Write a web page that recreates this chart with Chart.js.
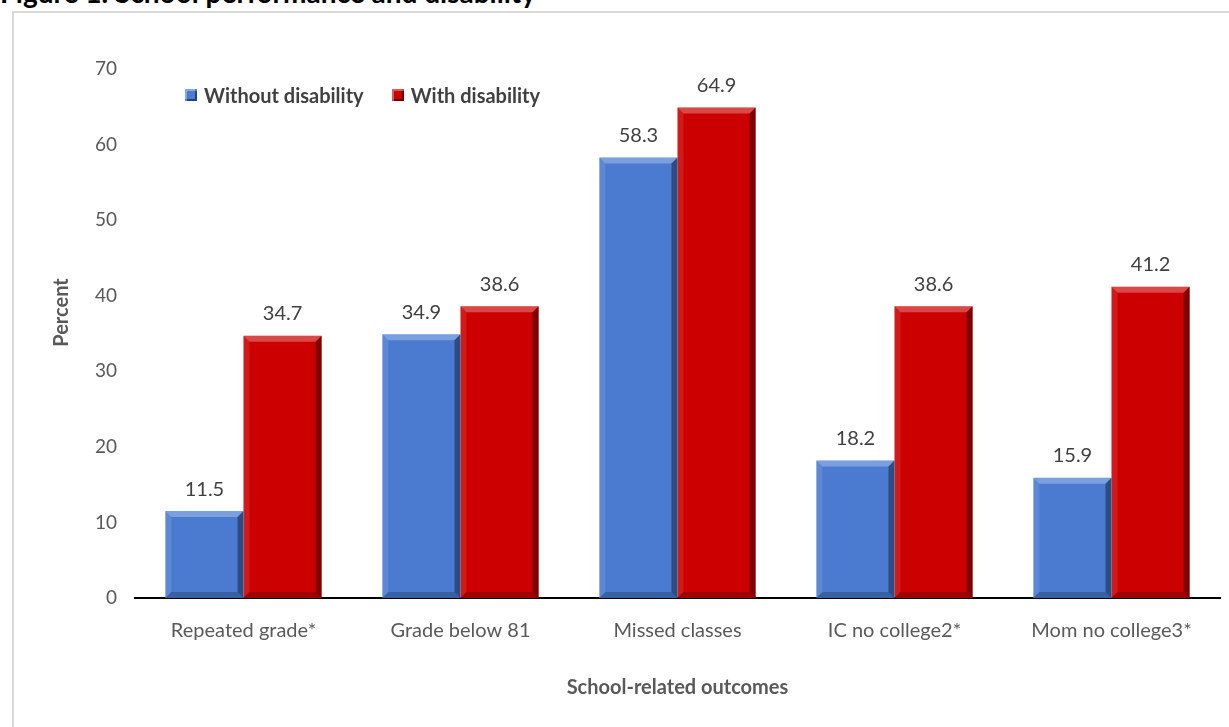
<!DOCTYPE html>
<html>
<head>
<meta charset="utf-8">
<script src="https://cdn.jsdelivr.net/npm/chart.js@4.4.0/dist/chart.umd.min.js"></script>
<style>
    html, body { margin: 0; padding: 0; background: #fff; width: 1229px; height: 727px; overflow: hidden; font-family: Lato, sans-serif; }
    #frame { position: absolute; left: 12px; top: 11px; width: 1300px; height: 800px; border: 2px solid #d9d9d9; box-sizing: border-box; }
    #title { position: absolute; left: 0; top: -22px; font: bold 28px/28px Lato, sans-serif; color: #000; white-space: nowrap; }
    #wrap { position: absolute; left: 0; top: 0; width: 1229px; height: 727px; }
    #legend { position: absolute; left: 185px; top: 83px; display: flex; align-items: center; font: bold 20px/24px Lato, sans-serif; color: #404040; }
    #legend .item { display: flex; align-items: center; margin-right: 28px; }
    #legend .box { width: 12px; height: 12px; margin-right: 7px; box-shadow: inset 2px 2px 0 rgba(255,255,255,0.35), inset -2px -2px 0 rgba(0,0,0,0.45); }
</style>
</head>
<body>
<div id="frame"></div>
<div id="title">Figure 1. School performance and disability</div>
<div id="wrap"><canvas id="chart" width="1229" height="727"></canvas></div>
<div id="legend"></div>
<script>
// Chart data
const categories = ['Repeated grade*', 'Grade below 81', 'Missed classes', 'IC no college2*', 'Mom no college3*'];
const withoutDisability = [11.5, 34.9, 58.3, 18.2, 15.9];
const withDisability = [34.7, 38.6, 64.9, 38.6, 41.2];
const seriesNames = ['Without disability', 'With disability'];
const yTicks = [0, 10, 20, 30, 40, 50, 60, 70];
const yTitle = 'Percent';
const xTitle = 'School-related outcomes';

const blue = '#4a7bd1';
const red = '#cc0000';

// Bevel look on each bar, plus the value labels on top
const bevelPlugin = {
    id: 'bevel',
    afterDatasetsDraw(chart) {
        const ctx = chart.ctx;
        chart.data.datasets.forEach((ds, di) => {
            const meta = chart.getDatasetMeta(di);
            meta.data.forEach((bar, i) => {
                const l = bar.x - bar.width / 2;
                const r = bar.x + bar.width / 2;
                const t = bar.y;
                const b = bar.base;
                const e = 6;
                const poly = (pts, fill) => {
                    ctx.beginPath();
                    ctx.moveTo(pts[0][0], pts[0][1]);
                    for (let k = 1; k < pts.length; k++) ctx.lineTo(pts[k][0], pts[k][1]);
                    ctx.closePath();
                    ctx.fillStyle = fill;
                    ctx.fill();
                };
                ctx.save();
                poly([[l, t], [r, t], [r - e, t + e], [l + e, t + e]], 'rgba(255,255,255,0.28)');
                poly([[l, t], [l + e, t + e], [l + e, b - e], [l, b]], 'rgba(255,255,255,0.1)');
                poly([[r, t], [r, b], [r - e, b - e], [r - e, t + e]], 'rgba(0,0,0,0.38)');
                poly([[l, b], [r, b], [r - e, b - e], [l + e, b - e]], 'rgba(0,0,0,0.22)');

                ctx.fillStyle = '#404040';
                ctx.font = '20px Lato, sans-serif';
                ctx.textAlign = 'center';
                ctx.textBaseline = 'middle';
                ctx.fillText(ds.data[i].toFixed(1), bar.x, t - 22);
                ctx.restore();
            });
        });
    }
};

// Y title sits a little above the middle of the axis, like the original
const yTitlePlugin = {
    id: 'yTitle',
    afterDraw(chart) {
        const ctx = chart.ctx;
        const area = chart.chartArea;
        ctx.save();
        ctx.translate(62, (area.top + area.bottom) / 2 - 21);
        ctx.rotate(-Math.PI / 2);
        ctx.fillStyle = '#595959';
        ctx.font = 'bold 20px Lato, sans-serif';
        ctx.textAlign = 'center';
        ctx.textBaseline = 'middle';
        ctx.fillText(yTitle, 0, 0);
        ctx.restore();
    }
};

const ctx = document.getElementById('chart').getContext('2d');
const chart = new Chart(ctx, {
    type: 'bar',
    data: {
        labels: categories,
        datasets: [
            { label: seriesNames[0], data: withoutDisability, backgroundColor: blue },
            { label: seriesNames[1], data: withDisability, backgroundColor: red }
        ]
    },
    options: {
        responsive: false,
        animation: false,
        devicePixelRatio: 1,
        barPercentage: 1,
        categoryPercentage: 0.72,
        layout: { padding: { left: 40, top: 69, right: 9, bottom: 20 } },
        plugins: {
            legend: { display: false },
            tooltip: { enabled: false }
        },
        scales: {
            x: {
                grid: { display: false, drawTicks: false },
                border: { display: true, color: '#000', width: 2 },
                ticks: { color: '#595959', font: { family: 'Lato', size: 20 }, padding: 21 },
                title: {
                    display: true,
                    text: xTitle,
                    color: '#595959',
                    font: { family: 'Lato', size: 20, weight: 'bold' },
                    padding: { top: 4, bottom: 7 }
                },
                afterFit(scale) { scale.height = 109; }
            },
            y: {
                min: 0,
                max: 70,
                grid: { display: false, drawTicks: false },
                border: { display: false },
                afterBuildTicks(scale) { scale.ticks = yTicks.map(v => ({ value: v })); },
                ticks: { color: '#595959', font: { family: 'Lato', size: 19 }, padding: 18 },
                afterFit(scale) { scale.width = 95; }
            }
        }
    },
    plugins: [bevelPlugin, yTitlePlugin]
});

// HTML legend built from the datasets
const legendEl = document.getElementById('legend');
chart.data.datasets.forEach(ds => {
    const item = document.createElement('div');
    item.className = 'item';
    const box = document.createElement('span');
    box.className = 'box';
    box.style.background = ds.backgroundColor;
    const txt = document.createElement('span');
    txt.textContent = ds.label;
    item.appendChild(box);
    item.appendChild(txt);
    legendEl.appendChild(item);
});
</script>
</body>
</html>
